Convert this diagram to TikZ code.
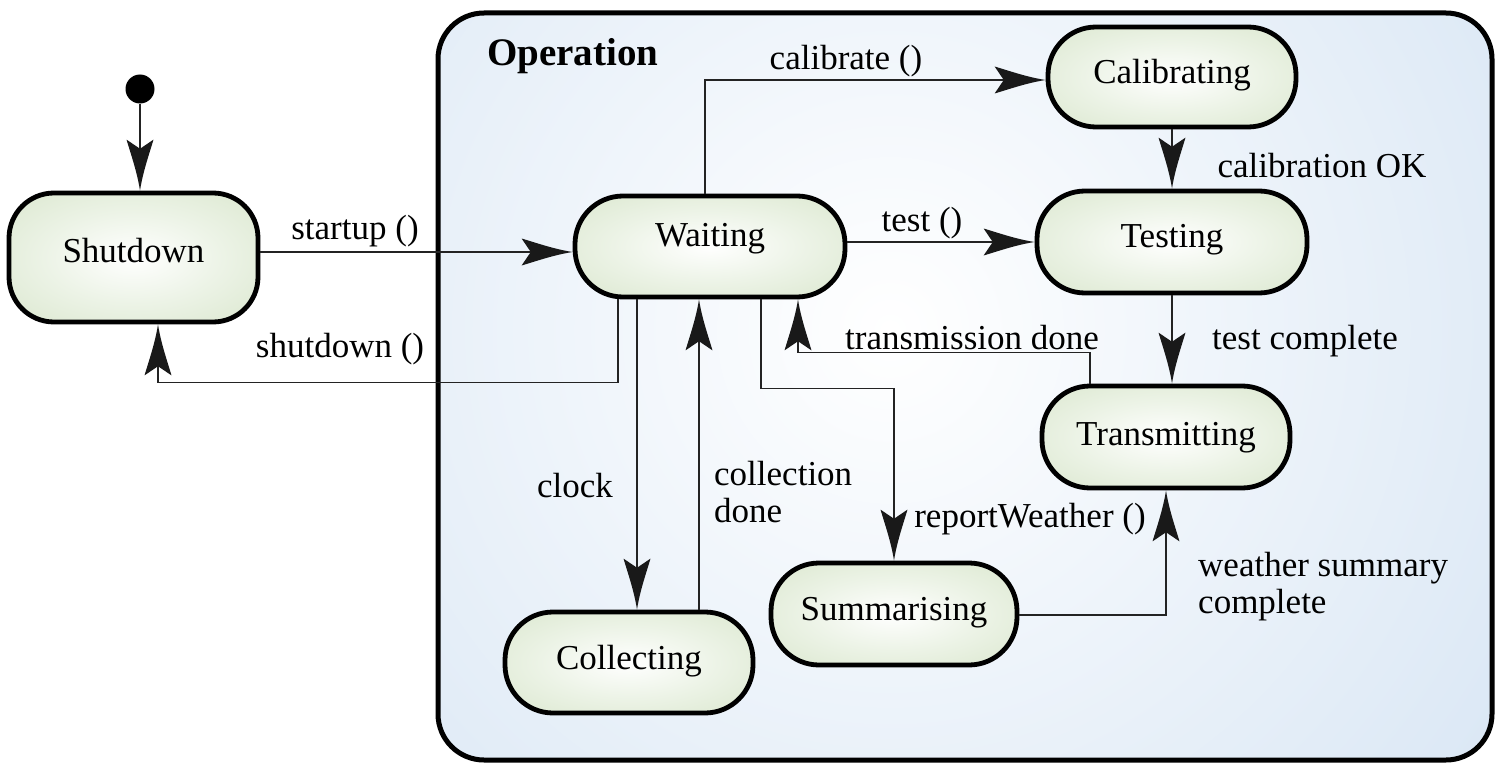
\documentclass[tikz,border=0pt]{standalone}
\usepackage{fontspec}
\setmainfont{Liberation Serif}
\usetikzlibrary{arrows.meta,calc}

\definecolor{stategreen}{RGB}{208,224,192}
\definecolor{statemid}{RGB}{236,243,230}
\definecolor{opblue}{RGB}{204,222,241}
\definecolor{linecol}{RGB}{35,35,35}

\pgfdeclareradialshading{stateshade}{\pgfpoint{0bp}{0bp}}{color(0bp)=(white); color(18bp)=(statemid); color(48bp)=(stategreen); color(90bp)=(stategreen)}

\pgfdeclarearrow{
  name = UTip,
  parameters = {\the\pgfarrowlength,\the\pgfarrowwidth},
  setup code = {
    \pgfarrowssettipend{0pt}
    \pgfarrowssetlineend{-0.7\pgfarrowlength}
    \pgfarrowssetvisualbackend{-0.82\pgfarrowlength}
    \pgfarrowssetbackend{-\pgfarrowlength}
    \pgfarrowshullpoint{0pt}{0pt}
    \pgfarrowshullpoint{-\pgfarrowlength}{0.5\pgfarrowwidth}
    \pgfarrowshullpoint{-\pgfarrowlength}{-0.5\pgfarrowwidth}
    \pgfarrowssavethe\pgfarrowlength
    \pgfarrowssavethe\pgfarrowwidth
  },
  drawing code = {
    \pgfpathmoveto{\pgfqpoint{0pt}{0pt}}
    \pgfpathcurveto{\pgfqpoint{-0.35\pgfarrowlength}{0.1\pgfarrowwidth}}{\pgfqpoint{-0.7\pgfarrowlength}{0.33\pgfarrowwidth}}{\pgfqpoint{-\pgfarrowlength}{0.5\pgfarrowwidth}}
    \pgfpathlineto{\pgfqpoint{-0.82\pgfarrowlength}{0pt}}
    \pgfpathlineto{\pgfqpoint{-\pgfarrowlength}{-0.5\pgfarrowwidth}}
    \pgfpathcurveto{\pgfqpoint{-0.7\pgfarrowlength}{-0.33\pgfarrowwidth}}{\pgfqpoint{-0.35\pgfarrowlength}{-0.1\pgfarrowwidth}}{\pgfqpoint{0pt}{0pt}}
    \pgfpathclose
    \pgfusepathqfill
  },
  defaults = {length = 51pt, width = 27pt}
}

\tikzset{
  statebox/.style={draw=black, line width=4.8pt, rounded corners=48pt, shade, shading=stateshade,
    inner sep=0pt, text height=23pt, text depth=23pt},
  tshift/.style={text height=#1, text depth={46pt-#1}},
  arr/.style={draw=linecol, line width=1.3pt, -{UTip[color=black!90]}},
  lbl/.style={inner sep=0pt},
}

\begin{document}
\begin{tikzpicture}[x=1pt,y=-1pt,font=\fontsize{35}{37}\selectfont]
\useasboundingbox (0,0) rectangle (1497,765);

% Operation composite state background
\begin{scope}
  \clip[rounded corners=46pt] (438,13) rectangle (1492,760);
  \fill[opblue] (438,13) rectangle (1492,760);
  \shade[inner color=white, outer color=opblue] (890,330) circle (1040pt);
\end{scope}
\node[draw=black, line width=5pt, rounded corners=46pt, minimum width=1054pt, minimum height=747pt, inner sep=0pt] (op) at (965,386.5) {};
\node[lbl, anchor=base west, font=\fontsize{39}{42}\selectfont\bfseries] (optitle) at (487,66) {Operation};

% initial state
\node[circle, fill=black, minimum size=29pt, inner sep=0pt] (init) at (140,89) {};

% states
\node[statebox, rounded corners=45pt, tshift=27.5pt, minimum width=249pt, minimum height=129pt] (sd) at (133.5,257.5) {Shutdown};
\node[statebox, minimum width=270pt, minimum height=101pt] (w) at (710,246.5) {Waiting};
\node[statebox, tshift=30pt, minimum width=248pt, minimum height=100pt] (cal) at (1172,77) {Calibrating};
\node[statebox, tshift=28pt, minimum width=270pt, minimum height=102pt] (t) at (1172,242) {Testing};
\node[statebox, tshift=31pt, minimum width=248pt, minimum height=102pt] (tr) at (1166,437) {Transmitting};
\node[statebox, tshift=29pt, minimum width=246pt, minimum height=102pt] (sum) at (894,614) {Summarising};
\node[statebox, tshift=29.5pt, minimum width=248pt, minimum height=101pt] (coll) at (629,662.5) {Collecting};

% connectors
\draw[arr] (init) -- (init |- sd.north);
\draw[arr] ([yshift=5.5pt]sd.east) -- ([yshift=-5.5pt]w.west);
\draw[arr] ([xshift=-92pt]w.south) -- ++(0,83) -| ([xshift=24.5pt]sd.south);
\draw[arr] ([xshift=-5pt]w.north) |- ([yshift=-3pt]cal.west);
\draw[arr] (w.east |- t.west) -- (t.west);
\draw[arr] (cal.south) -- (t.north);
\draw[arr] (t.south) -- (t.south |- tr.north);
\draw[arr] ([xshift=-76pt]tr.north) -- ++(0,-31) -| ([xshift=88pt]w.south);
\draw[arr] ([xshift=-73pt]w.south) -- ([xshift=8pt]coll.north);
\draw[arr] ([xshift=70pt]coll.north) -- ([xshift=-11pt]w.south);
\draw[arr] ([xshift=51pt]w.south) -- ++(0,89) -| (sum.north);
\draw[arr] ([yshift=-1pt]sum.east) -| (tr.south);

% labels
\node[lbl] (lstartup) at (355,231) {startup ()};
\node[lbl] (lshutdown) at (340,349) {shutdown ()};
\node[lbl] (lcalibrate) at (846,61) {calibrate ()};
\node[lbl] (ltest) at (922,223) {test ()};
\node[lbl] (lcalok) at (1322,166) {calibration OK};
\node[lbl] (ltestc) at (1305,341) {test complete};
\node[lbl] (ltrans) at (972,338) {transmission done};
\node[lbl] (lclock) at (575,486) {clock};
\node[lbl, anchor=west, align=left] (lcolldone) at (714,492) {collection\\done};
\node[lbl] (lreport) at (1030,519) {reportWeather ()};
\node[lbl, anchor=west, align=left] (lweather) at (1198,587) {weather summary\\complete};
\end{tikzpicture}
\end{document}
